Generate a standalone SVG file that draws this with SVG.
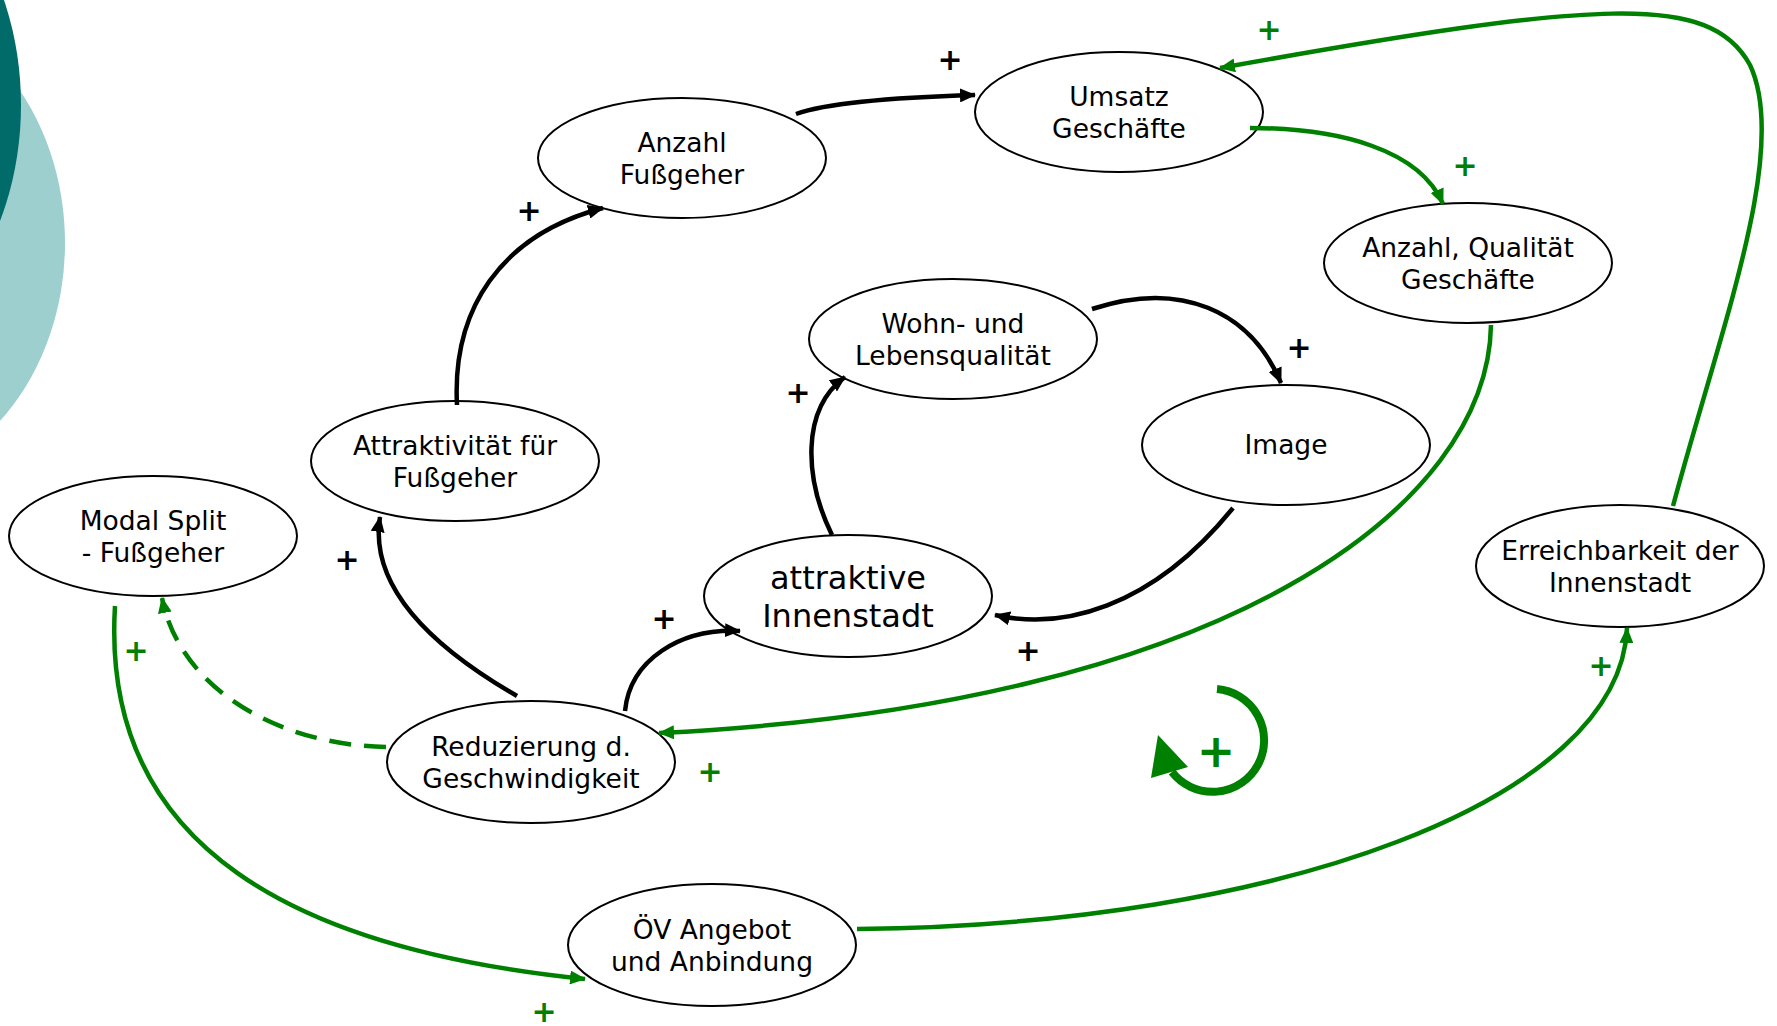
<svg xmlns="http://www.w3.org/2000/svg" width="1777" height="1026" viewBox="0 0 1777 1026">
<style>
.node ellipse{fill:#fff;stroke:#000;stroke-width:2}
.node text{font-family:"DejaVu Sans","Liberation Sans",sans-serif;font-size:26.5px;fill:#000;text-anchor:middle}
.node text.big{font-size:32px}
.blk{fill:none;stroke:#000;stroke-width:4.5;marker-end:url(#ab)}
.grn{fill:none;stroke:#008000;stroke-width:4.5;marker-end:url(#ag)}
.pb{font-family:"DejaVu Sans",sans-serif;font-size:30px;font-weight:bold;fill:#000;text-anchor:middle}
.pg{font-family:"DejaVu Sans",sans-serif;font-size:30px;font-weight:bold;fill:#008000;text-anchor:middle}
</style>
<defs>
<marker id="ab" viewBox="0 0 16 14" refX="15" refY="7" markerWidth="16" markerHeight="14" markerUnits="userSpaceOnUse" orient="auto"><path d="M0,0 L16,7 L0,14 z" fill="#000"/></marker>
<marker id="ag" viewBox="0 0 16 14" refX="15" refY="7" markerWidth="16" markerHeight="14" markerUnits="userSpaceOnUse" orient="auto"><path d="M0,0 L16,7 L0,14 z" fill="#008000"/></marker>
</defs>
<rect width="1777" height="1026" fill="#fff"/>
<g id="background">
<ellipse cx="-135" cy="243" rx="200" ry="241" fill="#9dcfcf"/>
<ellipse cx="-179" cy="105" rx="200" ry="260" fill="#006b68"/>
</g>
<g id="n-anzahl-fussgeher" class="node"><ellipse cx="682" cy="158" rx="144" ry="60"/><text x="682" y="152">Anzahl</text><text x="682" y="184">Fußgeher</text></g>
<g id="n-umsatz" class="node"><ellipse cx="1119" cy="112" rx="144" ry="60"/><text x="1119" y="106">Umsatz</text><text x="1119" y="138">Geschäfte</text></g>
<g id="n-anzahl-qualitaet" class="node"><ellipse cx="1468" cy="263" rx="144" ry="60"/><text x="1468" y="257">Anzahl, Qualität</text><text x="1468" y="289">Geschäfte</text></g>
<g id="n-wohn" class="node"><ellipse cx="953" cy="339" rx="144" ry="60"/><text x="953" y="333">Wohn- und</text><text x="953" y="365">Lebensqualität</text></g>
<g id="n-image" class="node"><ellipse cx="1286" cy="445" rx="144" ry="60"/><text x="1286" y="454">Image</text></g>
<g id="n-attr-fussgeher" class="node"><ellipse cx="455" cy="461" rx="144" ry="60"/><text x="455" y="455">Attraktivität für</text><text x="455" y="487">Fußgeher</text></g>
<g id="n-modal-split" class="node"><ellipse cx="153" cy="536" rx="144" ry="60"/><text x="153" y="530">Modal Split</text><text x="153" y="562">- Fußgeher</text></g>
<g id="n-attr-innenstadt" class="node"><ellipse cx="848" cy="596" rx="144" ry="61"/><text class="big" x="848" y="589">attraktive</text><text class="big" x="848" y="627">Innenstadt</text></g>
<g id="n-reduzierung" class="node"><ellipse cx="531" cy="762" rx="144" ry="61"/><text x="531" y="756">Reduzierung d.</text><text x="531" y="788">Geschwindigkeit</text></g>
<g id="n-oev" class="node"><ellipse cx="712" cy="945" rx="144" ry="61"/><text x="712" y="939">ÖV Angebot</text><text x="712" y="971">und Anbindung</text></g>
<g id="n-erreichbarkeit" class="node"><ellipse cx="1620" cy="566" rx="144" ry="61"/><text x="1620" y="560">Erreichbarkeit der</text><text x="1620" y="592">Innenstadt</text></g>
<g id="connectors">
<path class="blk" d="M796,114 Q838,99 975,95"/>
<path class="blk" d="M457,405 C452,310 500,235 603,208"/>
<path class="blk" d="M517,696 C420,640 370,580 380,517"/>
<path class="blk" d="M625,711 C630,660 680,628 740,631"/>
<path class="blk" d="M832,535 C805,480 800,410 845,377"/>
<path class="blk" d="M1092,309 C1180,280 1250,310 1281,383"/>
<path class="blk" d="M1233,508 C1150,610 1060,630 995,615"/>
<path class="grn" d="M1250,128 C1340,128 1420,150 1443,204"/>
<path class="grn" d="M1673,506 C1720,330 1790,150 1750,65 C1710,-8 1600,0 1220,68"/>
<path class="grn" d="M1491,325 C1488,505 1230,705 659,733"/>
<path class="grn" stroke-dasharray="22 13" d="M386,747 C280,745 180,690 162,598"/>
<path class="grn" d="M115,606 C100,850 300,950 585,979"/>
<path class="grn" d="M857,929 C1280,925 1620,800 1627,628"/>
<path d="M1217,689 A51.5,51.5 0 1,1 1172,772" fill="none" stroke="#008000" stroke-width="8"/>
<polygon points="1158,735 1151,778 1188,767" fill="#008000"/>
</g>
<g id="polarities">
<text class="pb" x="950" y="70">+</text>
<text class="pb" x="529" y="221">+</text>
<text class="pb" x="347" y="570">+</text>
<text class="pb" x="664" y="629">+</text>
<text class="pb" x="798" y="403">+</text>
<text class="pb" x="1299" y="358">+</text>
<text class="pb" x="1028" y="661">+</text>
<text class="pg" x="1465" y="176">+</text>
<text class="pg" x="1269" y="40">+</text>
<text class="pg" x="710" y="782">+</text>
<text class="pg" x="136" y="661">+</text>
<text class="pg" x="544" y="1022">+</text>
<text class="pg" x="1601" y="676">+</text>
<text class="pg" x="1216" y="767" style="font-size:46px">+</text>
</g>
</svg>
